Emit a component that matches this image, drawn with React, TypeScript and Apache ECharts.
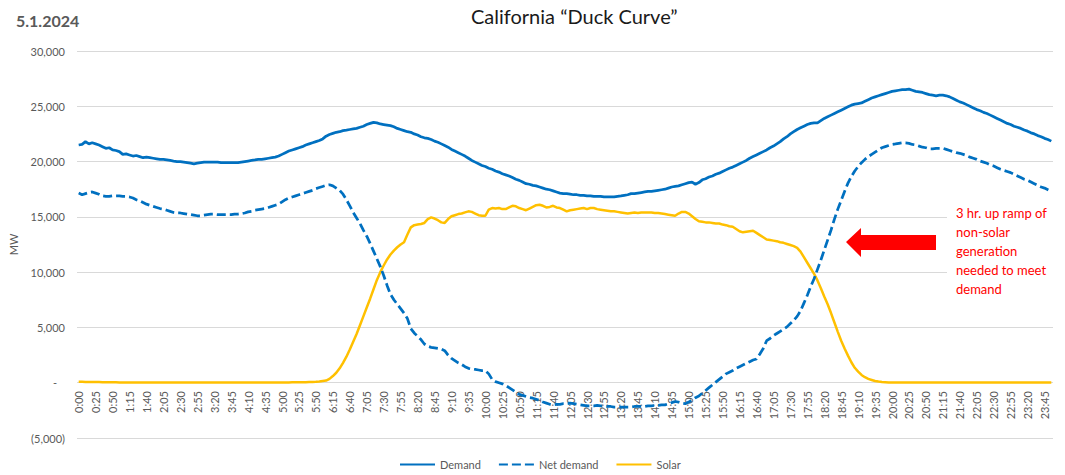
import React, { useEffect, useRef } from "react";
import * as echarts from "echarts";

const TIMES: string[] = [];
for (let h = 0; h < 24; h++) {
  for (let m = 0; m < 60; m += 5) {
    TIMES.push(`${h}:${m < 10 ? "0" + m : m}`);
  }
}

const DEMAND = [
  21500,21550,21800,21600,21700,21600,21500,21350,21200,21250,21050,21000,
  20900,20650,20700,20600,20500,20550,20450,20350,20400,20350,20300,20250,
  20200,20200,20150,20100,20050,20000,20000,19950,19900,19850,19800,19850,
  19900,19950,19950,19950,19950,19950,19900,19900,19900,19900,19900,19900,
  19950,20000,20050,20100,20150,20200,20200,20250,20300,20350,20400,20500,
  20650,20800,20950,21050,21150,21250,21350,21500,21600,21700,21800,21900,
  22050,22300,22450,22550,22650,22700,22800,22850,22900,22950,23000,23100,
  23200,23350,23450,23550,23500,23400,23350,23300,23250,23150,23000,22900,
  22800,22700,22650,22500,22400,22250,22150,22100,22000,21850,21750,21600,
  21450,21300,21100,20950,20800,20650,20500,20300,20100,19950,19800,19650,
  19550,19400,19300,19150,19050,18900,18800,18700,18550,18400,18300,18150,
  18000,17950,17850,17800,17700,17600,17500,17450,17350,17250,17150,17100,
  17100,17050,17000,17000,16950,16950,16900,16900,16850,16850,16850,16800,
  16800,16800,16800,16850,16900,16950,17000,17100,17100,17150,17200,17250,
  17300,17300,17350,17400,17450,17500,17600,17700,17750,17800,17900,18000,
  18100,18150,17950,18100,18350,18450,18600,18700,18850,18950,19100,19250,
  19400,19500,19650,19800,19950,20100,20300,20450,20600,20750,20900,21050,
  21250,21400,21600,21800,22050,22250,22500,22700,22900,23050,23200,23350,
  23450,23500,23500,23700,23900,24050,24200,24350,24500,24650,24800,24950,
  25100,25200,25250,25300,25450,25600,25750,25850,25950,26050,26150,26250,
  26350,26400,26450,26500,26500,26550,26450,26350,26300,26250,26150,26050,
  26000,25950,26000,26000,25950,25850,25700,25550,25400,25300,25150,25000,
  24850,24700,24600,24450,24350,24200,24050,23900,23750,23600,23450,23350,
  23200,23100,23000,22850,22750,22600,22500,22350,22250,22100,22000,21850,
];

const NET_DEMAND = [
  17150,17000,17100,17200,17250,17150,17050,16900,16850,16850,16900,16900,
  16900,16850,16850,16800,16700,16550,16450,16300,16150,16050,15950,15850,
  15750,15700,15600,15500,15400,15350,15350,15300,15250,15200,15150,15100,
  15100,15150,15200,15250,15250,15200,15200,15200,15200,15200,15250,15250,
  15300,15350,15450,15500,15600,15650,15700,15750,15850,15950,16050,16150,
  16350,16550,16700,16800,16900,17000,17100,17200,17300,17400,17550,17650,
  17750,17850,17900,17800,17600,17400,17050,16550,16000,15400,14900,14400,
  13800,13250,12600,11900,11200,10500,9700,8800,8000,7500,7100,6700,
  6300,5800,4900,4500,4200,3900,3500,3300,3200,3150,3100,3050,
  2900,2500,2200,2000,1800,1650,1450,1300,1250,1200,1150,1100,
  1100,800,300,100,0,-100,-250,-450,-650,-850,-1050,-1150,
  -1250,-1350,-1400,-1500,-1600,-1750,-1850,-1950,-2000,-1950,-1950,-1900,
  -1900,-1850,-1900,-1950,-2000,-2050,-2100,-2100,-2100,-2050,-2100,-2100,
  -2150,-2150,-2200,-2200,-2200,-2200,-2200,-2200,-2150,-2150,-2150,-2150,
  -2100,-2100,-2050,-2050,-2000,-2000,-1900,-1800,-1700,-1750,-1850,-1900,
  -1750,-1550,-1350,-1200,-950,-700,-450,-200,50,300,550,800,
  950,1100,1300,1450,1600,1750,1900,2050,2150,2600,3100,3800,
  4000,4250,4450,4650,4850,5050,5350,5650,6000,6500,7200,7900,
  8700,9400,10250,11100,12000,12900,13800,14800,15700,16500,17300,18050,
  18650,19150,19550,19900,20200,20450,20650,20850,21050,21250,21350,21450,
  21550,21600,21650,21700,21700,21650,21550,21500,21400,21300,21250,21150,
  21150,21200,21200,21200,21100,21000,20900,20800,20750,20650,20550,20400,
  20300,20200,20050,19950,19850,19700,19600,19450,19300,19200,19100,19000,
  18850,18700,18550,18400,18300,18150,18000,17850,17700,17600,17450,17300,
];

const SOLAR = [
  80,80,70,70,60,60,60,50,50,50,40,40,
  30,30,30,20,20,20,20,20,20,20,20,20,
  20,20,20,20,20,30,30,30,30,30,30,30,
  30,30,30,30,30,30,30,30,30,30,30,30,
  30,30,30,30,30,30,30,30,30,30,30,30,
  30,30,30,40,40,40,50,50,60,70,90,120,
  160,200,350,600,900,1300,1800,2350,3000,3700,4400,5200,
  6000,6800,7600,8450,9300,10000,10600,11150,11600,11950,12250,12500,
  12700,13400,14050,14250,14300,14350,14450,14800,14950,14850,14700,14500,
  14450,14800,15050,15150,15250,15300,15400,15500,15450,15300,15150,15100,
  15100,15650,15800,15750,15800,15700,15700,15850,16000,15950,15800,15700,
  15600,15750,15900,16050,16100,16000,15850,15900,16000,15850,15800,15650,
  15500,15600,15650,15700,15750,15800,15700,15800,15800,15700,15650,15600,
  15550,15500,15500,15450,15400,15350,15300,15350,15400,15350,15400,15400,
  15400,15400,15350,15350,15300,15250,15200,15150,15100,15300,15450,15450,
  15300,15050,14800,14600,14550,14500,14500,14450,14400,14400,14300,14250,
  14150,14100,13900,13700,13600,13650,13700,13750,13550,13350,13150,12950,
  12900,12850,12800,12700,12650,12550,12450,12350,12200,11850,11350,10850,
  10350,9850,9250,8550,7800,7100,6300,5450,4600,3800,3100,2450,
  1850,1350,1000,700,500,350,250,150,100,60,40,20,
  10,10,10,10,10,10,10,10,10,10,10,10,
  10,10,10,10,10,10,20,20,20,20,20,20,
  20,20,20,20,20,20,20,30,30,30,30,30,
  30,30,30,30,30,30,30,30,30,30,30,30,
];

const TITLE = "California \u201CDuck Curve\u201D";
const DATE_LABEL = "5.1.2024";
const NOTE = "3 hr. up ramp of\nnon-solar\ngeneration\nneeded to meet\ndemand";

const FONT = "Lato, 'Noto Sans', sans-serif";
const GRAY = "#595959";
const BLUE = "#0070C0";
const GOLD = "#FFC000";

function fmt(v: number): string {
  if (v === 0) return "{z|-}";
  const s = String(Math.abs(v)).replace(/\B(?=(\d{3})+(?!\d))/g, ",");
  return v < 0 ? `(${s})` : s;
}

export default function App() {
  const ref = useRef<HTMLDivElement>(null);
  useEffect(() => {
    if (!ref.current) return;
    const chart = echarts.init(ref.current, undefined, { renderer: "svg" });
    chart.setOption({
      animation: false,
      backgroundColor: "#ffffff",
      textStyle: { fontFamily: FONT },
      title: {
        text: TITLE,
        left: 466,
        top: 1,
        textStyle: { fontSize: 20, fontWeight: "normal", color: "#1a1a1a", fontFamily: FONT },
      },
      legend: {
        left: 394,
        top: 454,
        itemWidth: 35,
        itemHeight: 10,
        itemGap: 17,
        itemStyle: { opacity: 0 },
        textStyle: { color: GRAY, fontSize: 11, fontFamily: FONT },
        data: ["Demand", "Net demand", "Solar"],
      },
      grid: { left: 74, right: 12, top: 51, bottom: 37, containLabel: false },
      xAxis: {
        type: "category",
        data: TIMES,
        boundaryGap: true,
        axisLine: { show: false, onZero: false },
        axisTick: { show: false },
        axisLabel: {
          interval: 4,
          rotate: 90,
          color: GRAY,
          fontSize: 11,
          margin: -47,
          fontFamily: FONT,
        },
        splitLine: { show: false },
      },
      yAxis: {
        type: "value",
        min: -5000,
        max: 30000,
        interval: 5000,
        name: "MW",
        nameLocation: "middle",
        nameGap: 58,
        nameTextStyle: { color: GRAY, fontSize: 11, fontFamily: FONT },
        axisLine: { show: false },
        axisTick: { show: false },
        axisLabel: {
          color: GRAY,
          fontSize: 11,
          margin: 12,
          fontFamily: FONT,
          formatter: fmt,
          rich: { z: { color: GRAY, fontSize: 11, fontFamily: FONT, padding: [0, 8, 0, 0] } },
        },
        splitLine: { lineStyle: { color: "#d9d9d9", width: 1 } },
      },
      series: [
        {
          name: "Demand",
          type: "line",
          data: DEMAND,
          symbol: "none",
          z: 3,
          lineStyle: { color: BLUE, width: 2.75 },
          itemStyle: { color: BLUE },
        },
        {
          name: "Net demand",
          type: "line",
          data: NET_DEMAND,
          symbol: "none",
          z: 3,
          lineStyle: { color: BLUE, width: 2.75, type: [9, 4] },
          itemStyle: { color: BLUE },
        },
        {
          name: "Solar",
          type: "line",
          data: SOLAR,
          symbol: "none",
          z: 2,
          lineStyle: { color: GOLD, width: 2.5 },
          itemStyle: { color: GOLD },
        },
      ],
      graphic: [
        {
          type: "text",
          left: 16,
          top: 12,
          style: { text: DATE_LABEL, fill: GRAY, font: `bold 16px ${FONT}` },
        },
        {
          type: "rect",
          z: 10,
          shape: { x: 947, y: 200, width: 118, height: 102 },
          style: { fill: "#ffffff" },
        },
        {
          type: "polygon",
          z: 11,
          shape: {
            points: [
              [846, 242], [861, 228], [861, 235], [936, 235],
              [936, 250], [861, 250], [861, 257],
            ],
          },
          style: { fill: "#FF0000" },
        },
        {
          type: "text",
          z: 11,
          x: 956,
          y: 203,
          style: {
            text: NOTE,
            fill: "#FF0000",
            font: `13px ${FONT}`,
            lineHeight: 19,
            verticalAlign: "top",
          },
        },
      ],
    });
    return () => chart.dispose();
  }, []);
  return (
    <div
      ref={ref}
      style={{ position: "fixed", left: 0, top: 0, width: 1065, height: 475, background: "#fff" }}
    />
  );
}
